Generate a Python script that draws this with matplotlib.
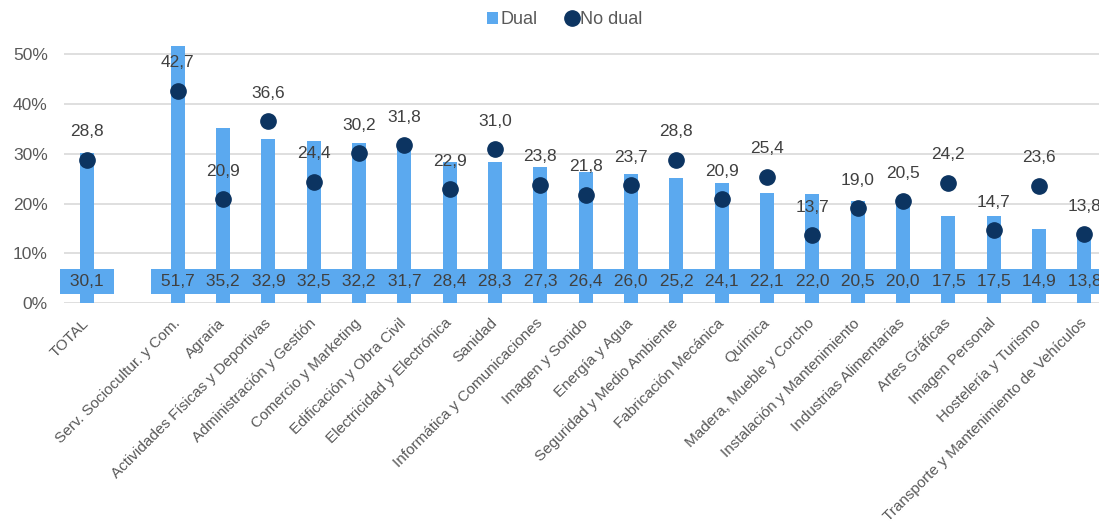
import numpy as np
import matplotlib
matplotlib.use("Agg")
import matplotlib.pyplot as plt
from matplotlib.lines import Line2D
from matplotlib.patches import Patch

plt.rcParams['font.family'] = ['Liberation Sans', 'DejaVu Sans']

categories = ["TOTAL", "Serv. Sociocultur. y Com.", "Agraria", "Actividades Físicas y Deportivas",
              "Administración y Gestión", "Comercio y Marketing", "Edificación y Obra Civil",
              "Electricidad y Electrónica", "Sanidad", "Informática y Comunicaciones",
              "Imagen y Sonido", "Energía y Agua", "Seguridad y Medio Ambiente",
              "Fabricación Mecánica", "Química", "Madera, Mueble y Corcho",
              "Instalación y Mantenimiento", "Industrias Alimentarias", "Artes Gráficas",
              "Imagen Personal", "Hostelería y Turismo", "Transporte y Mantenimiento de Vehículos"]
dual = [30.1, 51.7, 35.2, 32.9, 32.5, 32.2, 31.7, 28.4, 28.3, 27.3, 26.4, 26.0, 25.2,
        24.1, 22.1, 22.0, 20.5, 20.0, 17.5, 17.5, 14.9, 13.8]
no_dual = [28.8, 42.7, 20.9, 36.6, 24.4, 30.2, 31.8, 22.9, 31.0, 23.8, 21.8, 23.7, 28.8,
           20.9, 25.4, 13.7, 19.0, 20.5, 24.2, 14.7, 23.6, 13.8]
yticks = [0, 10, 20, 30, 40, 50]

BAR = "#5BA9EF"
NAVY = "#0C3461"
TXT = "#404040"
AX = "#595959"

fig = plt.figure(figsize=(10.99, 5.24), dpi=100)
W, H = 1099, 524
x0_px, x1_px = 64.4, 1107
y0_px = 303
ymax = 55
ppu = 4.974
top_px = y0_px - ymax * ppu
ax = fig.add_axes([x0_px / W, (H - y0_px) / H, (x1_px - x0_px) / W, (y0_px - top_px) / H])

x = np.r_[0, np.arange(2, 2 + len(categories) - 1)].astype(float)
d = np.array(dual) / 100
n = np.array(no_dual) / 100

ax.bar(x, d, width=0.31, color=BAR, zorder=2, clip_on=False)
ax.plot(x, n, 'o', color=NAVY, markersize=11, zorder=4, clip_on=False)

for xi, v in zip(x, dual):
    ax.text(xi, 0.044, " " + f"{v:.1f}".replace(".", ",") + " ", ha='center', va='center',
            fontsize=12.5, color=TXT, zorder=3, clip_on=False,
            bbox=dict(boxstyle='square,pad=0.29', facecolor=BAR, edgecolor='none'))
for xi, v, nv in zip(x, no_dual, n):
    ax.annotate(f"{v:.1f}".replace(".", ","), (xi, nv), xytext=(0, 20), textcoords='offset points',
                ha='center', va='center', fontsize=12.5, color=TXT, zorder=5)

ax.set_xlim(-0.5, 22.5)
ax.set_ylim(0, ymax / 100)
ax.set_yticks(np.array(yticks) / 100)
ax.set_yticklabels([f"{t}%" for t in yticks])
ax.set_xticks(x)
ax.set_xticklabels(categories, rotation=45, ha='right', rotation_mode='anchor')
ax.tick_params(axis='x', length=0, pad=13, labelsize=11, labelcolor=AX)
ax.tick_params(axis='y', length=0, pad=12, labelsize=12.5, labelcolor=AX)
for lbl in ax.get_xticklabels():
    lbl.set_va('center')
ax.grid(axis='y', color='#D9D9D9', linewidth=1.2, zorder=0)
ax.set_axisbelow(True)
for s in ax.spines.values():
    s.set_visible(False)

handles = [Patch(facecolor=BAR, edgecolor='none', label='Dual'),
           Line2D([], [], marker='o', linestyle='none', color=NAVY, markersize=11, label='No dual')]
fig.legend(handles=handles, loc='center', bbox_to_anchor=(564.5 / W, 1 - 20 / H), ncol=2, frameon=False,
           fontsize=13, labelcolor=AX, handlelength=0.6, handleheight=0.6, handletextpad=0.15,
           columnspacing=1.6)

fig.savefig("out.png", dpi=100)
